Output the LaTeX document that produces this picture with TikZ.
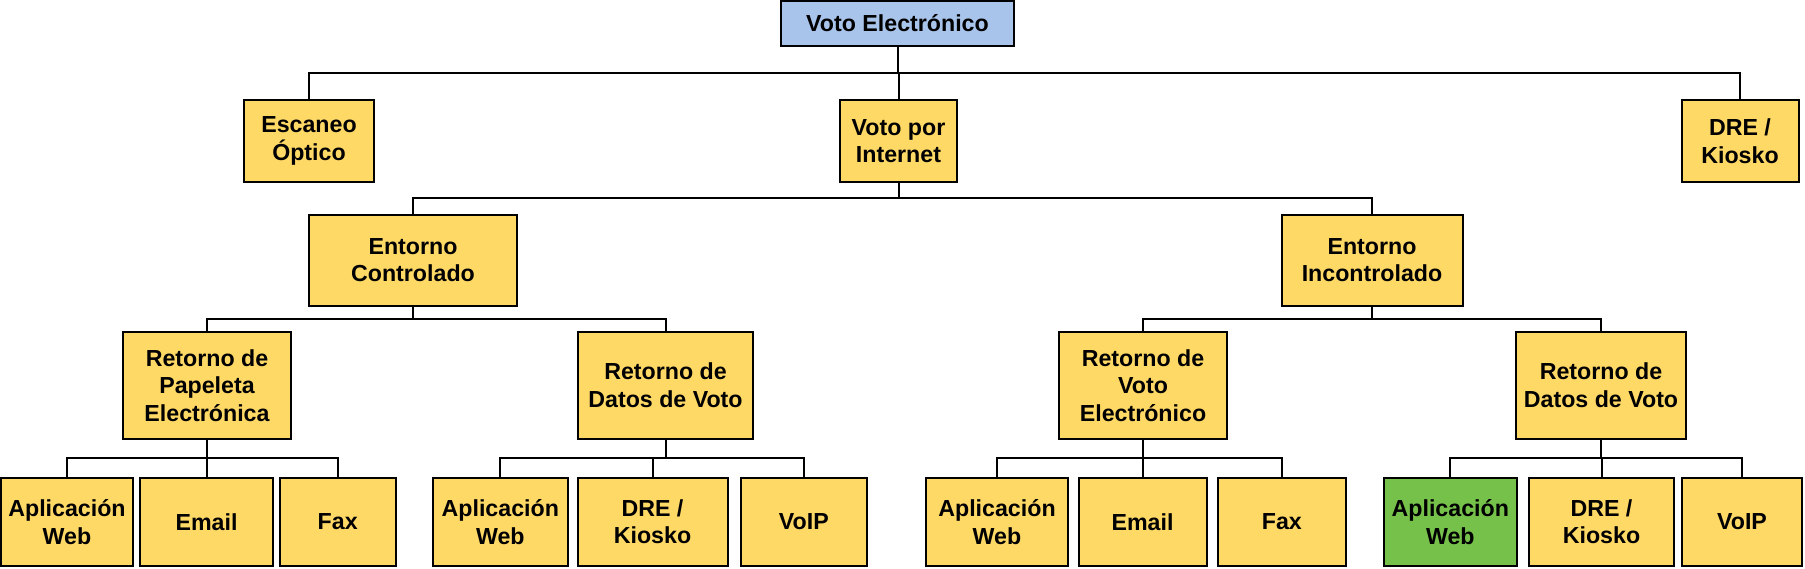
\documentclass[tikz,border=0pt]{standalone}
\usepackage{fontspec}
\setmainfont{Liberation Sans}
\usetikzlibrary{calc}
\definecolor{boxyellow}{HTML}{FFD966}
\definecolor{rootblue}{HTML}{A9C4EB}
\definecolor{pickgreen}{HTML}{76C14A}

\begin{document}
\begin{tikzpicture}[x=0.5pt,y=-0.5pt,font=\fontsize{11.6}{13.8}\selectfont\bfseries,
  box/.style={draw,line width=1pt,fill=boxyellow,align=center,inner sep=0pt,minimum width=#1*0.5pt},
  rootbox/.style={box=#1,fill=rootblue,minimum height=22.5pt},
  catbox/.style={box=#1,minimum height=41pt},
  envbox/.style={box=#1,minimum height=45.5pt},
  retbox/.style={box=#1,minimum height=53.5pt},
  leafbox/.style={box=#1,minimum height=44pt},
  link/.style={line width=1pt}]
\useasboundingbox (0,0) rectangle (1805,568);
% top and first level
\node[rootbox=233] (voto) at (897.5,23.5) {Voto Electrónico};
\node[catbox=130] (escaneo) at (309,141) {Escaneo\\Óptico};
\node[catbox=117] (internet) at (898.5,141) {Voto por\\Internet};
\node[catbox=117] (kiosko) at (1740,141) {DRE /\\Kiosko};
% environments
\node[envbox=208] (entC) at (413,260.3) {Entorno\\Controlado};
\node[envbox=181] (entI) at (1372,260.3) {Entorno\\Incontrolado};
% return channels
\node[retbox=168.5] (retP) at (207,385.4) {Retorno de\\Papeleta\\Electrónica};
\node[retbox=175] (retDA) at (665.5,385.4) {Retorno de\\Datos de Voto};
\node[retbox=168.5] (retV) at (1143,385.4) {Retorno de\\Voto\\Electrónico};
\node[retbox=170] (retDB) at (1601,385.4) {Retorno de\\Datos de Voto};
% leaves
\foreach \n/\x/\w/\c/\t in {
  awA/67/132/boxyellow/{Aplicación\\Web}, emA/206.5/133/boxyellow/{Email}, fxA/337.7/116/boxyellow/{Fax},
  awB/500.3/135/boxyellow/{Aplicación\\Web}, dkB/652.5/150/boxyellow/{DRE /\\Kiosko}, vpB/803.8/126.5/boxyellow/{VoIP},
  awC/997/142/boxyellow/{Aplicación\\Web}, emC/1142.5/128/boxyellow/{Email}, fxC/1281.8/128/boxyellow/{Fax},
  awD/1450.3/132.5/pickgreen/{Aplicación\\Web}, dkD/1601.5/145/boxyellow/{DRE /\\Kiosko}, vpD/1742/120/boxyellow/{VoIP}}{
  \node[leafbox=\w,fill=\c] (\n) at (\x,521.9) {\t};
}
% tree links
\foreach \p/\c in {voto/escaneo,voto/internet,voto/kiosko,internet/entC,internet/entI,
  entC/retP,entC/retDA,entI/retV,entI/retDB,
  retP/awA,retP/emA,retP/fxA,retDA/awB,retDA/dkB,retDA/vpB,
  retV/awC,retV/emC,retV/fxC,retDB/awD,retDB/dkD,retDB/vpD}{
  \draw[link] (\p.south) |- ($(\p.south)!.5!(\c.north)$) -| (\c.north);
}
\end{tikzpicture}
\end{document}
